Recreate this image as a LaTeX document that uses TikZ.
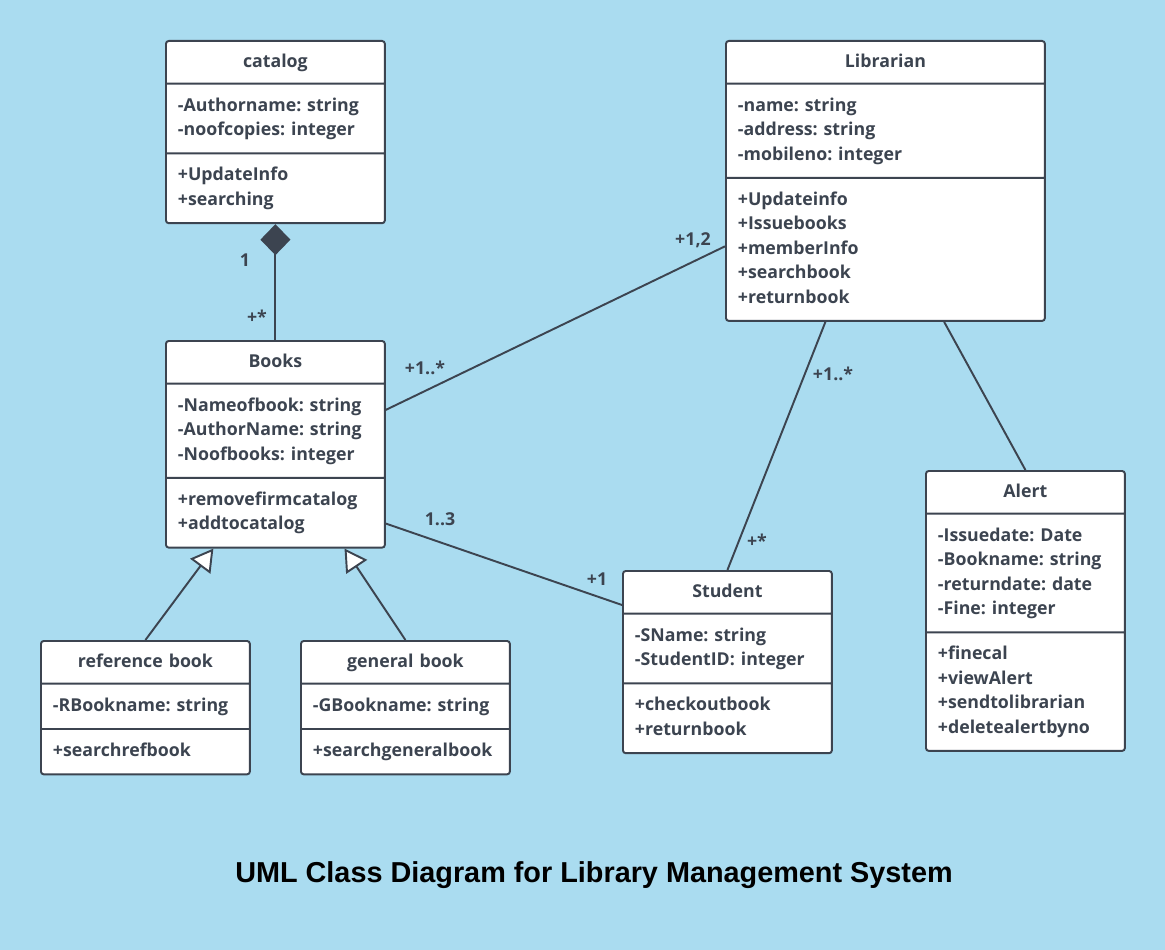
\documentclass[tikz,border=0pt]{standalone}
\usepackage{fontspec}
\setmainfont{Open Sans}
\newfontfamily\titlefont{Liberation Sans}
\usetikzlibrary{arrows.meta, shapes.multipart, calc}

\definecolor{bgblue}{RGB}{170,220,240}
\definecolor{umlline}{RGB}{60,68,80}
\newcommand{\umlfont}{\fontsize{10.1}{13.9}\selectfont\bfseries\frenchspacing}
\newcommand{\umlhead}[1]{\makebox[\linewidth][c]{\vrule height 8.9pt depth 3.5pt width 0pt #1}}

\begin{document}
\begin{tikzpicture}[
	umlclass/.style={rectangle split, rectangle split parts=3, draw=umlline, line width=1.1pt,
		fill=white, rounded corners=1.6pt, text width=#1, align=left, anchor=north west,
		inner xsep=6.8pt, inner ysep=5.4pt, font=\umlfont, text=umlline},
	mult/.style={font=\umlfont, text=umlline, inner sep=1pt},
	assoc/.style={draw=umlline, line width=1.1pt},
	]
	%background
	\fill[bgblue] (0,0) rectangle (23.3,-19);
	\useasboundingbox (0,0) rectangle (23.3,-19);
	%classes
	\node[umlclass=3.9cm] (catalog) at (3.30,-0.80) {\umlhead{catalog}
		\nodepart{two} \strut -Authorname: string\\-noofcopies: integer\strut
		\nodepart{three} \strut +UpdateInfo\\+searching\strut};
	\node[umlclass=3.9cm] (books) at (3.30,-6.80) {\umlhead{Books}
		\nodepart{two} \strut -Nameofbook: string\\-AuthorName: string\\-Noofbooks: integer\strut
		\nodepart{three} \strut +removefirmcatalog\\+addtocatalog\strut};
	\node[umlclass=5.9cm] (librarian) at (14.50,-0.80) {\umlhead{Librarian}
		\nodepart{two} \strut -name: string\\-address: string\\-mobileno: integer\strut
		\nodepart{three} \strut +Updateinfo\\+Issuebooks\\+memberInfo\\+searchbook\\+returnbook\strut};
	\node[umlclass=3.5cm] (alert) at (18.50,-9.40) {\umlhead{Alert}
		\nodepart{two} \strut -Issuedate: Date\\-Bookname: string\\-returndate: date\\-Fine: integer\strut
		\nodepart{three} \strut +finecal\\+viewAlert\\+sendtolibrarian\\+deletealertbyno\strut};
	\node[umlclass=3.7cm] (student) at (12.44,-11.40) {\umlhead{Student}
		\nodepart{two} \strut -SName: string\\-StudentID: integer\strut
		\nodepart{three} \strut +checkoutbook\\+returnbook\strut};
	\node[umlclass=3.7cm] (refbook) at (0.80,-12.80) {\umlhead{reference book}
		\nodepart{two} \strut -RBookname: string\strut
		\nodepart{three} \strut +searchrefbook\strut};
	\node[umlclass=3.7cm] (genbook) at (6.00,-12.80) {\umlhead{general book}
		\nodepart{two} \strut -GBookname: string\strut
		\nodepart{three} \strut +searchgeneralbook\strut};
	%composition
	\draw[assoc, {Diamond[length=0.62cm, width=0.6cm, fill=umlline]}-] (catalog.south) -- (books.north);
	%associations
	\draw[assoc] ($(books.north east)!0.335!(books.south east)$) -- ($(librarian.north west)!0.732!(librarian.south west)$);
	\draw[assoc] ($(books.north east)!0.88!(books.south east)$) -- ($(student.north west)!0.19!(student.south west)$);
	\draw[assoc] ($(librarian.south west)!0.313!(librarian.south east)$) -- (student.north);
	\draw[assoc] ($(librarian.south west)!0.683!(librarian.south east)$) -- (alert.north);
	%generalization
	\draw[assoc, -{Triangle[length=0.44cm, width=0.5cm, fill=white]}] (refbook.north) -- ($(books.south west)!0.219!(books.south east)$);
	\draw[assoc, -{Triangle[length=0.44cm, width=0.5cm, fill=white]}] (genbook.north) -- ($(books.south west)!0.813!(books.south east)$);
	%multiplicities
	\node[mult] (m1) at (4.90,-5.20) {1};
	\node[mult] (m2) at (5.14,-6.34) {+*};
	\node[mult] (m3) at (8.50,-7.36) {+1..*};
	\node[mult] (m4) at (13.86,-4.80) {+1,2};
	\node[mult] (m5) at (8.80,-10.38) {1..3};
	\node[mult] (m6) at (11.94,-11.58) {+1};
	\node[mult] (m7) at (16.66,-7.48) {+1..*};
	\node[mult] (m8) at (15.14,-10.82) {+*};
	%title
	\node[font=\titlefont\bfseries\fontsize{16.4}{20}\selectfont] (title) at (11.88,-17.50) {UML Class Diagram for Library Management System};
\end{tikzpicture}
\end{document}
